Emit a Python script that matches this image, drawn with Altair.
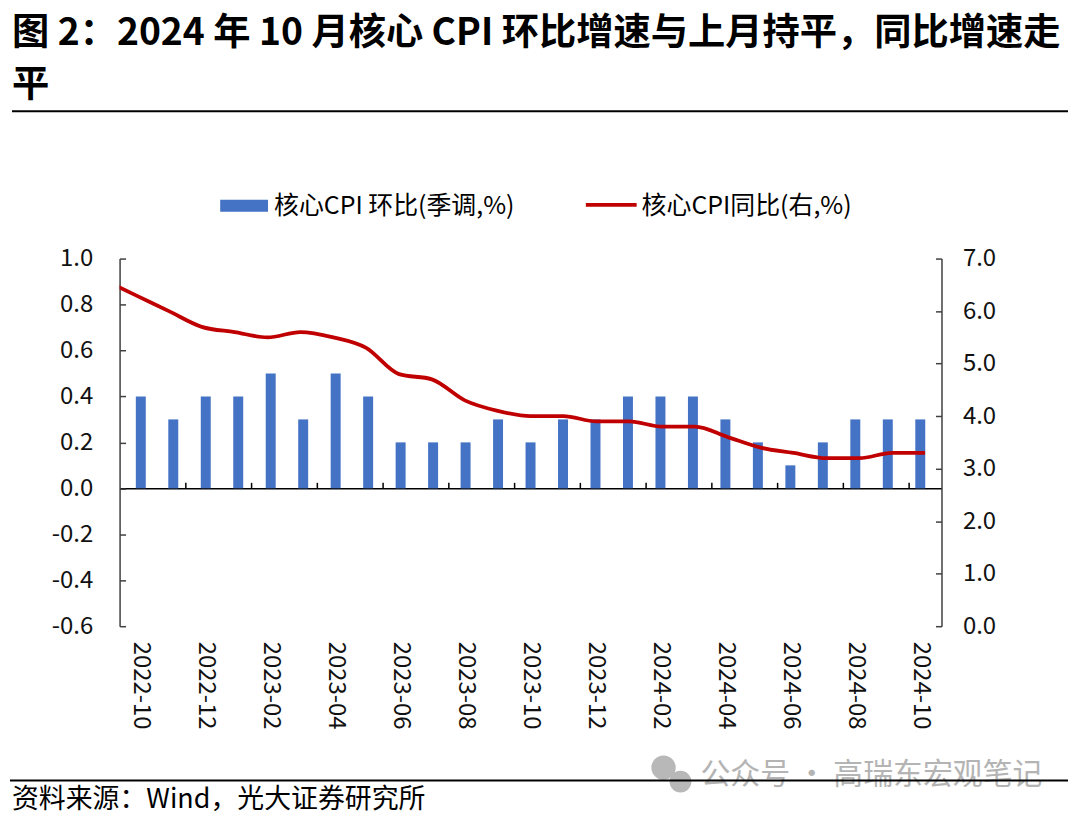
import json
import altair as alt
import pandas as pd

FONT = "Noto Sans CJK SC"

# ---- data ----
months = ["2022-10", "2022-11", "2022-12", "2023-01", "2023-02", "2023-03", "2023-04",
          "2023-05", "2023-06", "2023-07", "2023-08", "2023-09", "2023-10", "2023-11",
          "2023-12", "2024-01", "2024-02", "2024-03", "2024-04", "2024-05", "2024-06",
          "2024-07", "2024-08", "2024-09", "2024-10"]
mom_sa = [0.4, 0.3, 0.4, 0.4, 0.5, 0.3, 0.5, 0.4, 0.2, 0.2, 0.2, 0.3, 0.2, 0.3,
          0.3, 0.4, 0.4, 0.4, 0.3, 0.2, 0.1, 0.2, 0.3, 0.3, 0.3]
# line starts one month earlier (clipped at the plot edge in the reference)
yoy_months = ["2022-09"] + months
yoy = [6.6, 6.3, 6.0, 5.7, 5.6, 5.5, 5.6, 5.5, 5.3, 4.8, 4.7, 4.3, 4.1, 4.0,
       4.0, 3.9, 3.9, 3.8, 3.8, 3.6, 3.4, 3.3, 3.2, 3.2, 3.3, 3.3]
left_ticks = [-0.6, -0.4, -0.2, 0.0, 0.2, 0.4, 0.6, 0.8, 1.0]
right_ticks = [0, 1, 2, 3, 4, 5, 6, 7]
label_idx = list(range(0, len(months), 2))
boundary_ticks = [i + 0.5 for i in range(1, len(months) - 1, 2)]

title_line1 = "图 2：2024 年 10 月核心 CPI 环比增速与上月持平，同比增速走"
title_line2 = "平"
legend_bar = "核心CPI 环比(季调,%)"
legend_line = "核心CPI同比(右,%)"
source = "资料来源：Wind，光大证券研究所"
watermark = "公众号 · 高瑞东宏观笔记"

BLUE = "#4472C4"
RED = "#C00000"
W, H = 825, 369

bar_df = pd.DataFrame({"idx": list(range(len(months))), "month": months, "mom": mom_sa})
line_df = pd.DataFrame({"idx": list(range(-1, len(months))), "month": yoy_months, "yoy": yoy})
one = pd.DataFrame({"t": [""]})

xscale = alt.Scale(domain=[-0.5, len(months) - 0.5], nice=False, zero=False)


def text_layer(txt, x, y, size, weight="normal", color="#000000", baseline="alphabetic"):
    return alt.Chart(pd.DataFrame({"t": [txt]})).mark_text(
        align="left", baseline=baseline, fontSize=size, fontWeight=weight,
        color=color, font=FONT
    ).encode(x=alt.value(x), y=alt.value(y), text="t:N")


def hrule(x1, x2, y, width=2, color="#000000"):
    return alt.Chart(one).mark_rule(color=color, strokeWidth=width).encode(
        x=alt.value(x1), x2=alt.value(x2), y=alt.value(y))


AX = dict(labelFont=FONT, labelFontSize=24, labelColor="#111111",
          domainColor="#404040", domainWidth=1.5, tickColor="#404040", tickWidth=1.5,
          title=None, grid=False, labelFlush=False)

bars = alt.Chart(bar_df).mark_bar(color=BLUE, size=10, orient="vertical").encode(
    x=alt.X("idx:Q", scale=xscale,
            axis=alt.Axis(orient="bottom", values=label_idx, ticks=False, domain=False,
                          labelAngle=90, labelAlign="left", labelBaseline="middle",
                          labelPadding=15,
                          labelExpr=f"{json.dumps(months)}[round(datum.value)]", **AX)),
    y=alt.Y("mom:Q", scale=alt.Scale(domain=[-0.6, 1.0], nice=False, zero=False),
            axis=alt.Axis(orient="left", values=left_ticks,
                          tickSize={"expr": "-6"}, labelPadding=33,
                          labelExpr="(datum.value < -0.000001 ? '-' : '') + format(abs(datum.value), '.1f')",
                          **AX)),
)

AX_TOP = dict(AX)
AX_TOP.update(domainColor="#000000", tickColor="#000000")
line = alt.Chart(line_df).mark_line(color=RED, strokeWidth=3.8, interpolate="monotone",
                                     clip=True).encode(
    x=alt.X("idx:Q", scale=xscale,
            axis=alt.Axis(orient="top", offset=-H * 1.0 / 1.6, values=boundary_ticks,
                          labels=False, domain=True, tickSize=6, **AX_TOP)),
    y=alt.Y("yoy:Q", scale=alt.Scale(domain=[0, 7], nice=False, zero=False),
            axis=alt.Axis(orient="right", values=right_ticks, format=".1f",
                          tickSize={"expr": "-6"}, labelPadding=27, **AX)),
)

# legend
leg_rect = alt.Chart(one).mark_rect(color=BLUE).encode(
    x=alt.value(101), x2=alt.value(149), y=alt.value(-59), y2=alt.value(-47))
leg_line = alt.Chart(one).mark_rule(color=RED, strokeWidth=3.8).encode(
    x=alt.value(468), x2=alt.value(519), y=alt.value(-54))
leg_t1 = text_layer(legend_bar, 155, -53, 25, baseline="middle")
leg_t2 = text_layer(legend_line, 524, -53, 25, baseline="middle")

# titles, rules, source, watermark
t1 = text_layer(title_line1, -108, -214, 37.4, weight="bold")
t2 = text_layer(title_line2, -108, -162, 37.4, weight="bold")
top_rule = hrule(-108, 952, -148, 2)
wm_icon1 = alt.Chart(one).mark_circle(color="#b8b8b8", opacity=1, size=600).encode(
    x=alt.value(546), y=alt.value(511))
wm_icon2 = alt.Chart(one).mark_circle(color="#b8b8b8", opacity=1, size=480).encode(
    x=alt.value(563), y=alt.value(525))
wm = text_layer(watermark, 583, 518, 30, color="#b4b4b4", baseline="middle")
bottom_rule = hrule(-110, 952, 524, 2)
src = text_layer(source, -108, 551, 27)

chart = alt.layer(
    t1, t2, top_rule, leg_rect, leg_line, leg_t1, leg_t2,
    wm_icon1, wm_icon2, wm, bottom_rule, src,
    bars, line
).resolve_scale(
    x="independent", y="independent"
).properties(
    width=W, height=H,
    autosize=alt.AutoSizeParams(type="none"),
    padding={"left": 112, "top": 250, "right": 131, "bottom": 189},
).configure(
    font=FONT
).configure_view(
    stroke=None
)

chart.save("out.html", embed_options={"renderer": "svg", "actions": False})
